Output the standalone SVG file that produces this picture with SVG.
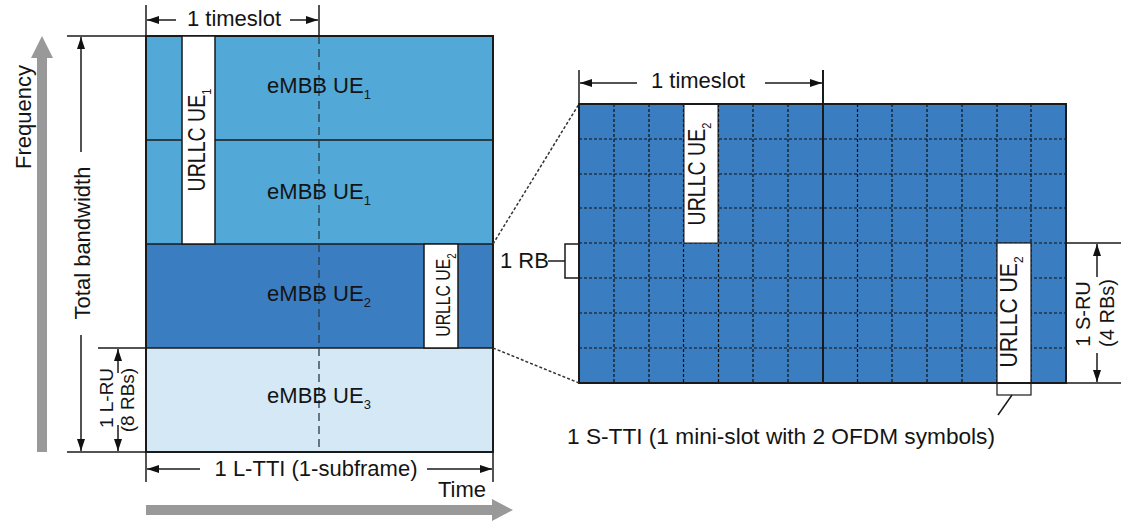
<svg xmlns="http://www.w3.org/2000/svg" width="1121" height="525" viewBox="0 0 1121 525">
<defs>
<style>
.t{font-family:"Liberation Sans",Arial,Helvetica,sans-serif;font-size:22px;fill:#141414}
.r{font-size:20px}
.u{font-size:23px}
.s{font-size:13px}
.ln{stroke:#1a1a1a;stroke-width:1.5;fill:none}
.bd{stroke:#1a1a1a;stroke-width:2;fill:none}
.dg{stroke:#111;stroke-width:1.2;stroke-dasharray:3 2;fill:none}
.dz{stroke:#333;stroke-width:1.5;stroke-dasharray:3 2;fill:none}
.dv{stroke:#2a3a4a;stroke-width:1.3;stroke-dasharray:8 5;fill:none}
.a{marker-end:url(#ah)}
.wb{fill:#fff;stroke:#1a1a1a;stroke-width:1.5}
</style>
<marker id="ah" viewBox="0 0 12 8" refX="12" refY="4" markerWidth="12" markerHeight="8" orient="auto" markerUnits="userSpaceOnUse"><path d="M0,0 L12,4 L0,8 z" fill="#111"/></marker>
</defs>
<rect width="1121" height="525" fill="#fff"/>

<!-- axes -->
<g id="axes">
<path d="M37,452 L37,58 L31,58 L42,36 L53,58 L47,58 L47,452 Z" fill="#999"/>
<path d="M146,505 L492,505 L492,499 L513,510 L492,521 L492,515 L146,515 Z" fill="#999"/>
<text class="t" transform="translate(31,117) rotate(-90)" text-anchor="middle">Frequency</text>
<text class="t" x="486" y="497" text-anchor="end">Time</text>
</g>

<!-- left resource panel -->
<g id="left-panel">
<rect x="146" y="36" width="347" height="208" fill="#52a8d6"/>
<rect x="146" y="244" width="347" height="104" fill="#3b7dc1"/>
<rect x="146" y="348" width="347" height="104" fill="#d4e8f6"/>
<line class="ln" x1="146" y1="140" x2="493" y2="140"/>
<line class="ln" x1="146" y1="244" x2="493" y2="244"/>
<line class="ln" x1="146" y1="348" x2="493" y2="348"/>
<line class="dv" x1="319" y1="36" x2="319" y2="452"/>
<rect class="bd" x="146" y="36" width="347" height="416"/>
</g>
<g id="urllc-ue1">
<rect class="wb" x="182" y="36" width="33" height="208"/>
<text class="t u" transform="translate(205,140) rotate(-90) scale(0.85,1)" text-anchor="middle">URLLC UE<tspan class="s" dy="6">1</tspan></text>
</g>
<g id="urllc-ue2-left">
<rect class="wb" x="424" y="244" width="34" height="104"/>
<text class="t" style="font-size:21px" transform="translate(450,295) rotate(-90) scale(0.75,1)" text-anchor="middle">URLLC UE<tspan class="s" dy="6">2</tspan></text>
</g>
<g id="embb-labels">
<text class="t" x="319" y="93" text-anchor="middle">eMBB UE<tspan class="s" dy="6">1</tspan></text>
<text class="t" x="319" y="199" text-anchor="middle">eMBB UE<tspan class="s" dy="6">1</tspan></text>
<text class="t" x="319" y="301" text-anchor="middle">eMBB UE<tspan class="s" dy="6">2</tspan></text>
<text class="t" x="319" y="403" text-anchor="middle">eMBB UE<tspan class="s" dy="6">3</tspan></text>
</g>

<!-- right grid -->
<g id="right-grid">
<rect x="579" y="104" width="487" height="279" fill="#3b7dc1"/>
<path class="dg" d="M579,139H1066M579,174H1066M579,208H1066M579,243H1066M579,278H1066M579,313H1066M579,348H1066"/>
<path class="dg" d="M614,104V383M649,104V383M683.5,104V383M718.5,104V383M753,104V383M788,104V383M857.5,104V383M892,104V383M927,104V383M962,104V383M997,104V383M1031,104V383"/>
<rect x="684" y="104" width="34" height="139" fill="#fff" stroke="#1a1a1a" stroke-width="1"/>
<rect x="997" y="243" width="34" height="152" fill="#fff" stroke="#1a1a1a" stroke-width="1.2"/>
<line class="bd" x1="823" y1="70" x2="823" y2="383"/>
<line class="ln" x1="579" y1="70" x2="579" y2="104"/>
<rect class="bd" x="579" y="104" width="487" height="279"/>
<text class="t u" transform="translate(705,174) rotate(-90) scale(0.85,1)" text-anchor="middle">URLLC UE<tspan class="s" dy="6">2</tspan></text>
<text class="t u" transform="translate(1017,312) rotate(-90) scale(0.92,1)" text-anchor="middle">URLLC UE<tspan class="s" dy="6">2</tspan></text>
</g>

<!-- connectors / dimension lines -->
<g id="connectors">
<line class="ln" x1="146" y1="5" x2="146" y2="482"/>
<line class="ln" x1="319" y1="5" x2="319" y2="36"/>
<line class="ln" x1="493" y1="452" x2="493" y2="482"/>
<line class="ln a" x1="176" y1="20" x2="147" y2="20"/>
<line class="ln a" x1="290" y1="20" x2="318" y2="20"/>
<line class="ln" x1="67" y1="36" x2="146" y2="36"/>
<line class="ln" x1="67" y1="452" x2="146" y2="452"/>
<line class="ln" x1="98" y1="348" x2="146" y2="348"/>
<line class="ln a" x1="81" y1="152" x2="81" y2="37"/>
<line class="ln a" x1="81" y1="335" x2="81" y2="451"/>
<line class="ln a" x1="118" y1="373" x2="118" y2="349"/>
<line class="ln a" x1="118" y1="425" x2="118" y2="451"/>
<line class="ln a" x1="200" y1="469" x2="147" y2="469"/>
<line class="ln a" x1="427" y1="469" x2="492" y2="469"/>
<line class="dz" x1="493" y1="244" x2="579" y2="104"/>
<line class="dz" x1="493" y1="348" x2="579" y2="383"/>
<line class="ln a" x1="637" y1="83" x2="580" y2="83"/>
<line class="ln a" x1="765" y1="83" x2="822" y2="83"/>
<polyline class="ln" points="579,244 565,244 565,278 579,278"/>
<line class="ln" x1="548" y1="261" x2="565" y2="261"/>
<line class="ln" x1="1066" y1="243" x2="1121" y2="243"/>
<line class="ln" x1="1066" y1="383" x2="1121" y2="383"/>
<line class="ln a" x1="1097" y1="277" x2="1097" y2="244"/>
<line class="ln a" x1="1097" y1="353" x2="1097" y2="382"/>
<line class="ln" x1="1012" y1="395" x2="998" y2="415"/>
</g>

<!-- dimension labels -->
<g id="labels">
<text class="t" x="234" y="26" text-anchor="middle">1 timeslot</text>
<text class="t" transform="translate(90,243) rotate(-90)" text-anchor="middle">Total bandwidth</text>
<text class="t" style="font-size:19px" transform="translate(113,398) rotate(-90)" text-anchor="middle">1 L-RU</text>
<text class="t" style="font-size:19px" transform="translate(134,400) rotate(-90)" text-anchor="middle">(8 RBs)</text>
<text class="t" x="316" y="476" text-anchor="middle">1 L-TTI (1-subframe)</text>
<text class="t" x="698" y="88" text-anchor="middle">1 timeslot</text>
<text class="t" x="500" y="268">1 RB</text>
<text class="t r" transform="translate(1090,314) rotate(-90)" text-anchor="middle">1 S-RU</text>
<text class="t r" transform="translate(1114,313) rotate(-90)" text-anchor="middle">(4 RBs)</text>
<text class="t" x="567" y="444" textLength="428" lengthAdjust="spacingAndGlyphs">1 S-TTI (1 mini-slot with 2 OFDM symbols)</text>
</g>
</svg>
